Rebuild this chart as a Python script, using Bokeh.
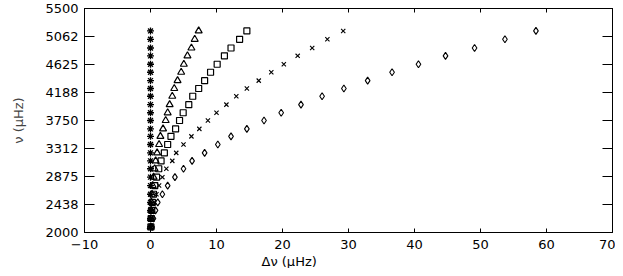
from bokeh.plotting import figure
from bokeh.models import Range1d, LinearAxis, FixedTicker, Title
from bokeh.embed import file_html
from bokeh.resources import INLINE

# frequencies (muHz) of the modes
nu = [2087, 2219, 2346, 2471, 2598, 2733, 2865, 2996, 3119, 3244, 3375, 3502,
      3619, 3750, 3871, 3998, 4129, 4250, 4373, 4504, 4629, 4760, 4883, 5019, 5150]

# frequency differences for each series (muHz)
d_star = [0.0] * 25
d_tri = [0.03, 0.06, 0.10, 0.14, 0.23, 0.33, 0.46, 0.62, 0.78, 1.0, 1.3, 1.5,
         1.9, 2.3, 2.6, 2.9, 3.3, 3.6, 4.1, 4.65, 5.05, 5.6, 6.2, 6.7, 7.3]
d_sq = [0.06, 0.11, 0.19, 0.28, 0.45, 0.65, 0.92, 1.25, 1.6, 2.1, 2.6, 3.1,
        3.8, 4.4, 4.95, 5.8, 6.4, 7.3, 8.2, 9.1, 10.1, 11.2, 12.2, 13.5, 14.6]
d_x = [0.12, 0.22, 0.4, 0.55, 0.9, 1.3, 1.8, 2.4, 3.3, 3.9, 5.0, 6.2,
       7.4, 8.7, 10.0, 11.5, 13.0, 14.6, 16.4, 18.3, 20.2, 22.3, 24.5, 26.8, 29.2]
d_dia = [0.25, 0.45, 0.76, 1.1, 1.8, 2.6, 3.7, 5.0, 6.3, 8.2, 10.2, 12.2,
         14.6, 17.2, 19.8, 22.8, 26.0, 29.3, 32.9, 36.6, 40.6, 44.7, 49.1, 53.7, 58.4]

x_ticks = [-10, 0, 10, 20, 30, 40, 50, 60, 70]
x_tick_labels = ["\u221210", "0", "10", "20", "30", "40", "50", "60", "70"]
y_ticks = [2000, 2437.5, 2875, 3312.5, 3750, 4187.5, 4625, 5062.5, 5500]
y_tick_labels = ["2000", "2438", "2875", "3312", "3750", "4188", "4625", "5062", "5500"]

FONT = "DejaVu Sans"
FS = "13px"

p = figure(width=615, height=268, x_range=Range1d(-10, 70), y_range=Range1d(2000, 5500),
           output_backend="svg", toolbar_location=None,
           min_border_left=84, min_border_right=3, min_border_top=8, min_border_bottom=20,
           x_axis_location=None, y_axis_location=None)
p.grid.visible = False
p.outline_line_color = "black"
p.background_fill_color = "white"
p.border_fill_color = "white"


def style_axis(ax, ticks, labels, tick_in, show_labels):
    ax.ticker = FixedTicker(ticks=ticks)
    ax.major_tick_in = tick_in
    ax.major_tick_out = 0
    ax.minor_tick_in = 0
    ax.minor_tick_out = 0
    ax.axis_line_color = "black"
    ax.major_tick_line_color = "black"
    ax.major_label_text_font = FONT
    ax.major_label_text_color = "black"
    ax.major_label_text_font_size = FS
    if show_labels:
        ax.major_label_overrides = {t: l for t, l in zip(ticks, labels)}
    else:
        ax.major_label_overrides = {t: "" for t in ticks}
        ax.major_label_standoff = 0


xb = LinearAxis()
style_axis(xb, x_ticks, x_tick_labels, 4, True)
xb.major_label_standoff = 7
p.add_layout(xb, "below")

xa = LinearAxis()
style_axis(xa, x_ticks, x_tick_labels, 4, False)
p.add_layout(xa, "above")

yl = LinearAxis(axis_label="\u03bd (\u03bcHz)")
style_axis(yl, y_ticks, y_tick_labels, 10, True)
yl.major_label_standoff = 6
yl.major_label_orientation = "horizontal"
yl.axis_label_text_font = FONT
yl.axis_label_text_font_size = FS
yl.axis_label_text_font_style = "normal"
yl.axis_label_standoff = 16
p.add_layout(yl, "left")

yr = LinearAxis()
style_axis(yr, y_ticks, y_tick_labels, 10, False)
p.add_layout(yr, "right")

p.scatter(d_star, nu, marker="asterisk", size=7, line_color="black", line_width=1.3)
p.scatter(d_tri, nu, marker="triangle", size=7, line_color="black", fill_alpha=0, line_width=1.2)
p.scatter(d_sq, nu, marker="square", size=6, line_color="black", fill_alpha=0, line_width=1.2)
p.scatter(d_x, nu, marker="x", size=6, line_color="black", line_width=1.1)
p.scatter(d_dia, nu, marker="diamond", size=7, line_color="black", fill_alpha=0, line_width=1.1)

xtitle = Title(text="\u0394\u03bd  (\u03bcHz)", align="left", offset=177, standoff=0,
               text_font=FONT, text_font_size=FS, text_font_style="normal", text_color="black")
p.add_layout(xtitle, "below")

open("out.html", "w").write(file_html(p, INLINE))
